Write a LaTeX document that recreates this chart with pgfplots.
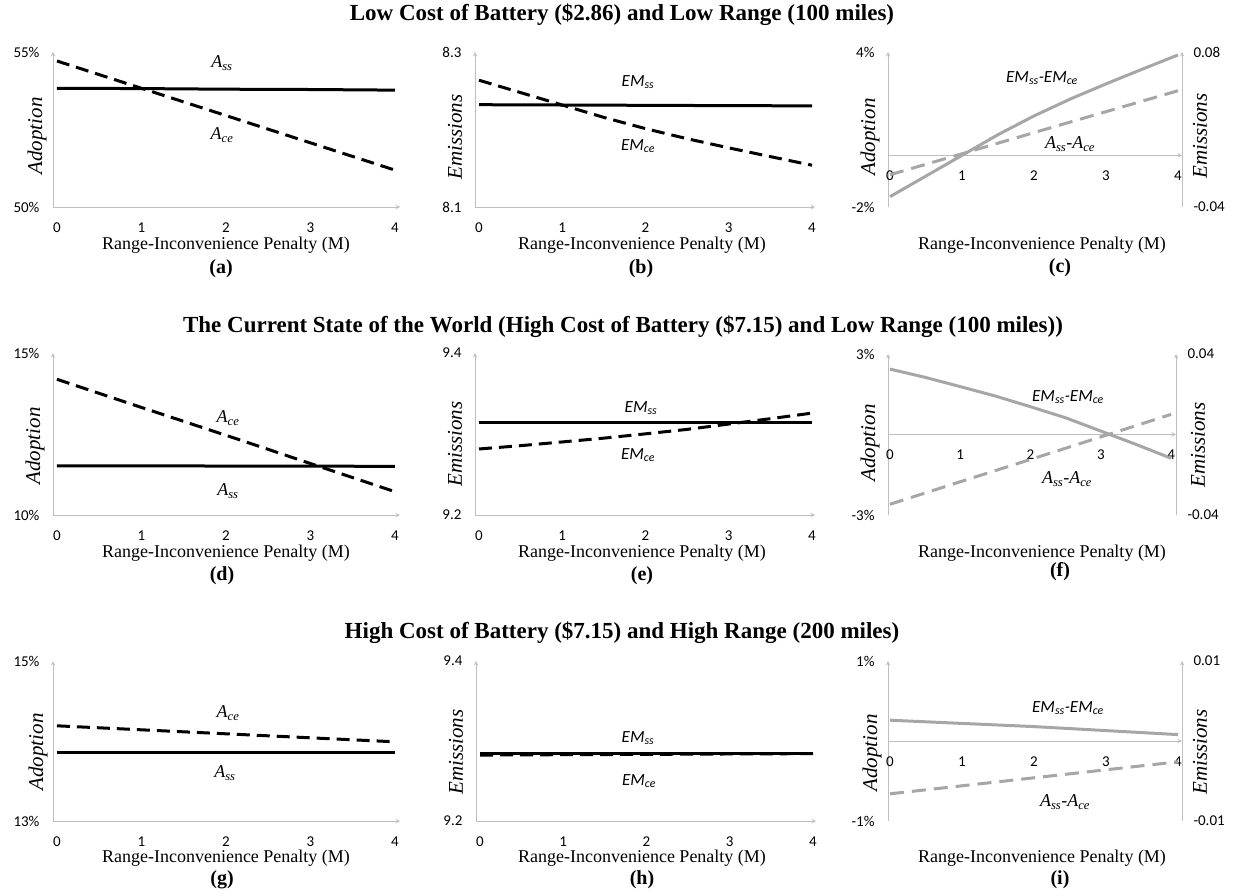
\documentclass[border=0pt]{standalone}
\usepackage{pgfplots}
\pgfplotsset{compat=1.18}
\usepackage{fontspec}
\setmainfont{Liberation Serif}
\newfontfamily\carlito{Carlito}
\definecolor{lgray}{RGB}{166,166,166}
\definecolor{axgray}{RGB}{191,191,191}
\newcommand{\tfont}{\fontsize{23}{27}\selectfont\bfseries}
\newcommand{\xlfont}{\fontsize{18}{21}\selectfont}
\newcommand{\sublab}{\fontsize{20}{24}\selectfont\bfseries}
\newcommand{\ylfont}{\fontsize{21}{24}\selectfont\itshape}
\newcommand{\tkfont}{\fontsize{15}{18}\selectfont\carlito}
\newcommand{\Alab}[1]{{\fontsize{18}{20}\selectfont\itshape A\textsubscript{#1}}}
\newcommand{\EMlab}[1]{{\fontsize{17}{20}\selectfont\carlito\itshape EM\textsubscript{#1}}}
\newcommand{\EMdiff}{{\fontsize{17}{20}\selectfont\carlito\itshape EM\textsubscript{ss}-EM\textsubscript{ce}}}
\newcommand{\Adiff}{{\fontsize{18}{20}\selectfont\itshape A\textsubscript{ss}-A\textsubscript{ce}}}

\pgfplotsset{
 base/.style={scale only axis, clip=false, major tick length=0pt,
   scaled x ticks=false, scaled y ticks=false,
   axis line style={draw=axgray, line width=1pt, -},
   every outer x axis line/.append style={-},
   every outer y axis line/.append style={-},
   every inner x axis line/.append style={-},
   every inner y axis line/.append style={-},
   tick label style={font=\tkfont},
   xtick={0,1,2,3,4}, xticklabels={0,1,2,3,4}, xticklabel style={yshift=-12pt}},
 lp/.style={base, anchor=south west, axis x line=bottom, axis y line=left, xmin=-0.047, xmax=4.06, width=347pt, yticklabel style={xshift=-10pt}},
 mp/.style={base, anchor=south west, axis x line=bottom, axis y line=left, xmin=-0.048, xmax=4.036, width=340pt, yticklabel style={xshift=-10pt}},
 rpl/.style={base, anchor=south west, axis x line=middle, axis y line=left, hide obscured x ticks=false, yticklabel style={xshift=-10pt}},
 rpr/.style={base, anchor=south west, axis x line=none, axis y line=right, xtick=\empty, yticklabel style={xshift=8pt}},
 blk/.style={black, line width=3pt},
 blkd/.style={black, line width=3pt, dash pattern=on 13pt off 7pt},
 gry/.style={lgray, line width=3pt},
 gryd/.style={lgray, line width=3pt, dash pattern=on 14pt off 8pt},
}

\begin{document}
\begin{tikzpicture}
\path[use as bounding box] (0pt,0pt) rectangle (1239pt,-896pt);

% ---------- Row 1 ----------
\node[font=\tfont] at (622pt,-15pt) {Low Cost of Battery (\$2.86) and Low Range (100 miles)};

\begin{axis}[lp, at={(53pt,-207pt)}, height=155pt, ymin=50, ymax=55, ytick={50,55}, yticklabels={50\%,55\%}]
\addplot[blk] coordinates {(0,53.83) (1,53.82) (2,53.80) (3,53.79) (4,53.77)};
\addplot[blkd] coordinates {(0,54.71) (1,53.83) (2,52.95) (3,52.07) (4,51.19)};
\end{axis}

\begin{axis}[mp, at={(475pt,-207pt)}, height=155pt, ymin=8.1, ymax=8.3, ytick={8.1,8.3}, yticklabels={8.1,8.3}]
\addplot[blk] coordinates {(0,8.2320) (1,8.2316) (2,8.2312) (3,8.2308) (4,8.2305)};
\addplot[blkd] coordinates {(0,8.2636) (0.5,8.2476) (1,8.2316) (1.5,8.2156) (2,8.2011) (2.5,8.1881) (3,8.1763) (3.5,8.1650) (4,8.1539)};
\end{axis}

\begin{axis}[rpl, at={(888pt,-207pt)}, width=294pt, height=155pt, xmin=-0.028, xmax=4.056, ymin=-2, ymax=4, ytick={-2,4}, yticklabels={-2\%,4\%}]
\addplot[gryd] coordinates {(0,-0.75) (1,0.06) (2,0.88) (3,1.69) (4,2.50)};
\end{axis}
\begin{axis}[rpr, at={(888pt,-207pt)}, width=294pt, height=155pt, xmin=-0.028, xmax=4.056, ymin=-0.04, ymax=0.08, ytick={-0.04,0.08}, yticklabels={-0.04,0.08}]
\addplot[gry] coordinates {(0,-0.032) (0.5,-0.016) (1,0.0) (1.5,0.016) (2,0.0305) (2.5,0.0435) (3,0.0553) (3.5,0.0666) (4,0.0777)};
\end{axis}

\node at (222pt,-63pt) {\Alab{ss}};
\node at (222pt,-135pt) {\Alab{ce}};
\node at (638pt,-82pt) {\EMlab{ss}};
\node at (638pt,-146pt) {\EMlab{ce}};
\node at (1042pt,-78pt) {\EMdiff};
\node at (1070pt,-144pt) {\Adiff};

\node[font=\ylfont, rotate=90] at (37pt,-136pt) {Adoption};
\node[font=\ylfont, rotate=90] at (455pt,-137pt) {Emissions};
\node[font=\ylfont, rotate=90] at (870pt,-137pt) {Adoption};
\node[font=\ylfont, rotate=90] at (1200pt,-136pt) {Emissions};

\node[font=\xlfont] at (226pt,-245pt) {Range-Inconvenience Penalty (M)};
\node[font=\xlfont] at (642pt,-245pt) {Range-Inconvenience Penalty (M)};
\node[font=\xlfont] at (1042pt,-245pt) {Range-Inconvenience Penalty (M)};
\node[font=\sublab] at (221pt,-269pt) {(a)};
\node[font=\sublab] at (641pt,-269pt) {(b)};
\node[font=\sublab] at (1060pt,-268pt) {(c)};

% ---------- Row 2 ----------
\node[font=\tfont] at (623pt,-327pt) {The Current State of the World (High Cost of Battery (\$7.15) and Low Range (100 miles))};

\begin{axis}[lp, at={(53pt,-515pt)}, height=162pt, ymin=10, ymax=15, ytick={10,15}, yticklabels={10\%,15\%}]
\addplot[blk] coordinates {(0,11.52) (1,11.52) (2,11.51) (3,11.51) (4,11.50)};
\addplot[blkd] coordinates {(0,14.19) (1,13.32) (2,12.46) (3,11.59) (4,10.72)};
\end{axis}

\begin{axis}[mp, at={(475pt,-515pt)}, height=162pt, ymin=9.2, ymax=9.4, ytick={9.2,9.4}, yticklabels={9.2,9.4}]
\addplot[blk] coordinates {(0,9.314) (1,9.314) (2,9.314) (3,9.314) (4,9.314)};
\addplot[blkd] coordinates {(0,9.2815) (0.5,9.2856) (1,9.2902) (1.5,9.2949) (2,9.3002) (2.5,9.3057) (3,9.3123) (3.5,9.3189) (4,9.3258)};
\end{axis}

\begin{axis}[rpl, at={(888pt,-515pt)}, width=288pt, height=161pt, xmin=-0.028, xmax=4.07, ymin=-3, ymax=3, ytick={-3,3}, yticklabels={-3\%,3\%}]
\addplot[gryd] coordinates {(0,-2.60) (1,-1.76) (2,-0.93) (3,-0.09) (4,0.75)};
\end{axis}
\begin{axis}[rpr, at={(888pt,-515pt)}, width=288pt, height=161pt, xmin=-0.028, xmax=4.07, ymin=-0.04, ymax=0.04, ytick={-0.04,0.04}, yticklabels={-0.04,0.04}]
\addplot[gry] coordinates {(0,0.0325) (0.5,0.0284) (1,0.0238) (1.5,0.0191) (2,0.0138) (2.5,0.0083) (3,0.0017) (3.5,-0.0049) (4,-0.0118)};
\end{axis}

\node at (228pt,-418pt) {\Alab{ce}};
\node at (228pt,-491pt) {\Alab{ss}};
\node at (641pt,-408pt) {\EMlab{ss}};
\node at (638pt,-455pt) {\EMlab{ce}};
\node at (1068pt,-397pt) {\EMdiff};
\node at (1067pt,-479pt) {\Adiff};

\node[font=\ylfont, rotate=90] at (35pt,-446pt) {Adoption};
\node[font=\ylfont, rotate=90] at (455pt,-444pt) {Emissions};
\node[font=\ylfont, rotate=90] at (870pt,-443pt) {Adoption};
\node[font=\ylfont, rotate=90] at (1198pt,-445pt) {Emissions};

\node[font=\xlfont] at (226pt,-553pt) {Range-Inconvenience Penalty (M)};
\node[font=\xlfont] at (642pt,-553pt) {Range-Inconvenience Penalty (M)};
\node[font=\xlfont] at (1042pt,-553pt) {Range-Inconvenience Penalty (M)};
\node[font=\sublab] at (222pt,-576pt) {(d)};
\node[font=\sublab] at (642pt,-576pt) {(e)};
\node[font=\sublab] at (1060pt,-572pt) {(f)};

% ---------- Row 3 ----------
\node[font=\tfont] at (622pt,-633pt) {High Cost of Battery (\$7.15) and High Range (200 miles)};

\begin{axis}[lp, at={(53pt,-821pt)}, height=160pt, ymin=13, ymax=15, ytick={13,15}, yticklabels={13\%,15\%}]
\addplot[blk] coordinates {(0,13.86) (1,13.86) (2,13.86) (3,13.86) (4,13.86)};
\addplot[blkd] coordinates {(0,14.19) (1,14.14) (2,14.09) (3,14.04) (4,13.99)};
\end{axis}

\begin{axis}[mp, at={(476pt,-821pt)}, width=340pt, height=160pt, ymin=9.2, ymax=9.4, ytick={9.2,9.4}, yticklabels={9.2,9.4}]
\addplot[blkd] coordinates {(0,9.2824) (1,9.2829) (2,9.2833) (3,9.2838) (4,9.2842)};
\addplot[blk] coordinates {(0,9.285) (1,9.285) (2,9.285) (3,9.285) (4,9.285)};
\end{axis}

\begin{axis}[rpl, at={(888pt,-821pt)}, width=294pt, height=160pt, xmin=-0.028, xmax=4.056, ymin=-1, ymax=1, ytick={-1,1}, yticklabels={-1\%,1\%}]
\addplot[gryd] coordinates {(0,-0.66) (1,-0.56) (2,-0.46) (3,-0.36) (4,-0.26)};
\end{axis}
\begin{axis}[rpr, at={(888pt,-821pt)}, width=294pt, height=160pt, xmin=-0.028, xmax=4.056, ymin=-0.01, ymax=0.01, ytick={-0.01,0.01}, yticklabels={-0.01,0.01}]
\addplot[gry] coordinates {(0,0.0026) (1,0.0022) (2,0.0018) (3,0.0013) (4,0.0008)};
\end{axis}

\node at (228pt,-713pt) {\Alab{ce}};
\node at (225pt,-773pt) {\Alab{ss}};
\node at (638pt,-738pt) {\EMlab{ss}};
\node at (639pt,-781pt) {\EMlab{ce}};
\node at (1068pt,-708pt) {\EMdiff};
\node at (1065pt,-802pt) {\Adiff};

\node[font=\ylfont, rotate=90] at (38pt,-752pt) {Adoption};
\node[font=\ylfont, rotate=90] at (456pt,-752pt) {Emissions};
\node[font=\ylfont, rotate=90] at (872pt,-753pt) {Adoption};
\node[font=\ylfont, rotate=90] at (1200pt,-752pt) {Emissions};

\node[font=\xlfont] at (226pt,-858pt) {Range-Inconvenience Penalty (M)};
\node[font=\xlfont] at (642pt,-858pt) {Range-Inconvenience Penalty (M)};
\node[font=\xlfont] at (1042pt,-858pt) {Range-Inconvenience Penalty (M)};
\node[font=\sublab] at (222pt,-880pt) {(g)};
\node[font=\sublab] at (642pt,-880pt) {(h)};
\node[font=\sublab] at (1060pt,-880pt) {(i)};
\end{tikzpicture}
\end{document}
